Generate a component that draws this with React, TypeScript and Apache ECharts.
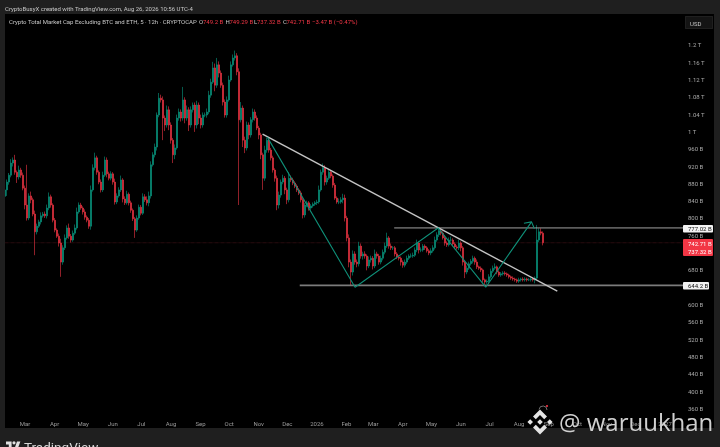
import React, { useEffect, useRef } from "react";
import * as echarts from "echarts";

const BAR_DAYS = 2.096;
const FIRST_BAR = Date.UTC(2025, 1, 8);
const AXIS_MIN = Date.UTC(2025, 1, 8);
const AXIS_MAX = Date.UTC(2027, 0, 20, 20);
const PRICE_MIN = 314.5;
const PRICE_MAX = 1271.6;

const closes = [
  865, 883, 899, 927, 934, 906, 895, 911, 899, 869,
  830, 800, 851, 842, 809, 768, 781, 791, 805, 809,
  805, 823, 849, 830, 795, 772, 758, 742, 698, 731,
  754, 777, 758, 749, 765, 777, 814, 830, 823, 814,
  802, 795, 781, 865, 916, 939, 906, 883, 865, 899,
  934, 902, 892, 902, 883, 837, 851, 865, 888, 844,
  835, 855, 835, 818, 798, 772, 800, 825, 811, 849,
  842, 835, 851, 923, 946, 964, 1038, 1077, 1073, 1031,
  1015, 1050, 1015, 980, 946, 962, 1031, 1045, 1031, 1073,
  1031, 1050, 1015, 1050, 1061, 1015, 1061, 1031, 1015, 1038,
  1038, 1045, 1084, 1114, 1147, 1107, 1154, 1135, 1107, 1068,
  1038, 1073, 1119, 1154, 1170, 1175, 1138, 1027, 1054, 980,
  962, 1015, 992, 1027, 1045, 1031, 1008, 992, 946, 892,
  957, 980, 957, 939, 911, 892, 830, 853, 883, 892,
  865, 842, 892, 888, 881, 874, 865, 858, 842, 807,
  830, 835, 823, 828, 832, 835, 837, 865, 906, 916,
  883, 892, 906, 897, 876, 846, 837, 837, 842, 846,
  800, 754, 698, 675, 717, 698, 694, 735, 712, 717,
  712, 689, 703, 707, 689, 717, 712, 698, 707, 721,
  735, 754, 735, 731, 731, 717, 710, 707, 698, 691,
  698, 707, 712, 712, 714, 726, 742, 726, 726, 735,
  731, 724, 719, 724, 731, 749, 761, 770, 765, 754,
  742, 738, 749, 749, 740, 733, 731, 742, 731, 698,
  675, 684, 694, 700, 707, 698, 687, 684, 680, 657,
  652, 654, 664, 677, 684, 687, 675, 668, 671, 673,
  671, 668, 664, 661, 659, 657, 654, 657, 659, 657,
  659, 657, 657, 659, 657, 661, 749, 768, 765, 742.71,
];

const upperWicks = [
  8, 6, 5, 9, 6, 12, 4, 10, 5, 6,
  6, 93, 6, 10, 5, 8, 6, 5, 8, 5,
  6, 8, 10, 5, 4, 5, 4, 6, 10, 6,
  8, 6, 10, 5, 6, 8, 10, 6, 5, 4,
  6, 4, 5, 10, 8, 12, 5, 4, 6, 8,
  8, 6, 5, 6, 4, 8, 6, 6, 10, 4,
  6, 8, 4, 5, 4, 4, 6, 6, 5, 8,
  6, 8, 10, 8, 6, 8, 6, 12, 8, 8,
  6, 10, 8, 6, 5, 8, 8, 8, 6, 30,
  6, 10, 6, 8, 6, 6, 10, 6, 8, 6,
  6, 8, 10, 8, 14, 10, 16, 8, 6, 6,
  6, 8, 10, 8, 8, 12, 6, 8, 14, 6,
  8, 8, 6, 6, 8, 6, 6, 5, 5, 5,
  10, 6, 6, 5, 5, 4, 6, 8, 6, 8,
  5, 5, 14, 6, 5, 4, 4, 4, 5, 4,
  5, 5, 4, 4, 4, 4, 5, 10, 6, 10,
  6, 6, 8, 5, 4, 5, 4, 8, 6, 10,
  8, 5, 8, 6, 8, 6, 6, 10, 6, 5,
  6, 4, 8, 6, 5, 10, 5, 5, 6, 6,
  8, 12, 4, 6, 4, 4, 4, 4, 4, 4,
  6, 6, 4, 6, 6, 6, 8, 4, 6, 5,
  4, 4, 4, 6, 6, 8, 6, 6, 6, 4,
  6, 4, 6, 8, 4, 4, 4, 8, 4, 4,
  3, 6, 5, 5, 6, 4, 6, 3, 4, 3,
  3, 4, 6, 6, 6, 8, 3, 4, 4, 4,
  4, 3, 3, 3, 4, 3, 3, 5, 3, 4,
  4, 3, 4, 3, 4, 4, 35, 8, 8, 4,
];

const lowerWicks = [
  8, 14, 6, 5, 8, 6, 14, 6, 6, 5,
  10, 6, 5, 8, 5, 54, 6, 4, 6, 4,
  5, 6, 5, 6, 5, 5, 4, 8, 34, 6,
  5, 4, 6, 6, 4, 4, 4, 4, 4, 6,
  6, 5, 6, 8, 4, 6, 6, 5, 6, 5,
  4, 8, 5, 5, 6, 6, 5, 4, 5, 8,
  5, 4, 6, 6, 5, 18, 4, 4, 5, 4,
  5, 6, 8, 6, 4, 6, 8, 5, 6, 51,
  14, 6, 12, 8, 19, 10, 4, 6, 8, 6,
  12, 6, 14, 6, 6, 16, 8, 14, 8, 6,
  5, 6, 5, 6, 4, 14, 6, 10, 6, 8,
  6, 6, 4, 4, 4, 6, 8, 197, 6, 16,
  12, 6, 10, 6, 6, 6, 5, 10, 10, 27,
  6, 6, 6, 6, 6, 8, 12, 8, 6, 5,
  10, 10, 6, 5, 5, 5, 5, 5, 6, 8,
  6, 5, 6, 4, 4, 4, 5, 4, 4, 6,
  8, 6, 4, 5, 6, 4, 4, 5, 4, 8,
  8, 8, 12, 30, 8, 6, 8, 6, 6, 8,
  6, 10, 5, 6, 8, 5, 6, 6, 5, 5,
  5, 4, 6, 5, 5, 6, 5, 5, 8, 6,
  5, 4, 4, 4, 4, 4, 5, 8, 5, 4,
  5, 4, 5, 5, 4, 4, 4, 5, 5, 4,
  6, 5, 4, 4, 5, 5, 4, 5, 8, 8,
  14, 5, 4, 4, 5, 6, 5, 4, 5, 6,
  6, 4, 4, 4, 4, 4, 5, 4, 4, 4,
  4, 4, 4, 4, 4, 4, 4, 4, 4, 4,
  4, 4, 3, 4, 4, 8, 4, 5, 5, 6,
];

const FIRST_OPEN = 850;

const priceTicks = [
  360, 400, 440, 480, 520, 560, 600, 680, 760, 800, 840, 880, 920, 960, 1000, 1040, 1080, 1120, 1160, 1200,
];

const monthTicks: [number, string][] = [
  [Date.UTC(2025, 2, 1), "Mar"], [Date.UTC(2025, 3, 1), "Apr"], [Date.UTC(2025, 4, 1), "May"],
  [Date.UTC(2025, 5, 1), "Jun"], [Date.UTC(2025, 6, 1), "Jul"], [Date.UTC(2025, 7, 1), "Aug"],
  [Date.UTC(2025, 8, 1), "Sep"], [Date.UTC(2025, 9, 1), "Oct"], [Date.UTC(2025, 10, 1), "Nov"],
  [Date.UTC(2025, 11, 1), "Dec"], [Date.UTC(2026, 0, 1), "2026"], [Date.UTC(2026, 1, 1), "Feb"],
  [Date.UTC(2026, 2, 1), "Mar"], [Date.UTC(2026, 3, 1), "Apr"], [Date.UTC(2026, 4, 1), "May"],
  [Date.UTC(2026, 5, 1), "Jun"], [Date.UTC(2026, 6, 1), "Jul"], [Date.UTC(2026, 7, 1), "Aug"],
  [Date.UTC(2026, 8, 1), "Sep"], [Date.UTC(2026, 9, 1), "Oct"], [Date.UTC(2026, 10, 1), "Nov"],
  [Date.UTC(2026, 11, 1), "Dec"], [Date.UTC(2027, 0, 1), "2027"],
];

const trendLine: [string, number][] = [["2025-11-05", 994], ["2026-09-10", 631]];
const zigzag: [string, number][] = [
  ["2025-11-10", 987], ["2026-02-10", 640], ["2026-05-08", 777], ["2026-06-27", 640], ["2026-08-14", 791],
];
const arrowHead: [string, number][] = [["2026-08-06", 788], ["2026-08-14", 791], ["2026-08-17", 775]];
const supportLine: [string, number][] = [["2025-12-14", 644.2], ["2027-01-20", 644.2]];
const resistanceLine: [string, number][] = [["2026-03-23", 777.02], ["2027-01-20", 777.02]];
const lastPriceLine: [string, number][] = [["2025-02-08", 742.71], ["2027-01-20", 742.71]];

const FONT = "Roboto, 'Liberation Sans', sans-serif";

const BINANCE_D =
  "M50 40L60 50L50 60L40 50Z M15 40L25 50L15 60L5 50Z M85 40L95 50L85 60L75 50Z " +
  "M50 5L75 30L65 40L50 25L35 40L25 30Z M50 95L25 70L35 60L50 75L65 60L75 70Z";
const TV_D = "M14 25H7V11H0V4H14V25Z M28 25H20L27.5 4H36L28 25Z M20 3A4 4 0 1 1 20 11A4 4 0 1 1 20 3Z";
echarts.graphic.registerShape("binanceMark", echarts.graphic.extendPath(BINANCE_D, {}));
echarts.graphic.registerShape("tvMark", echarts.graphic.extendPath(TV_D, {}));

function buildOption() {
  const candles = closes.map((c, i) => {
    const o = i === 0 ? FIRST_OPEN : closes[i - 1];
    const hi = Math.max(o, c) + (upperWicks[i] ?? 0);
    const lo = Math.min(o, c) - (lowerWicks[i] ?? 0);
    return [FIRST_BAR + i * BAR_DAYS * 86400000, o, c, lo, hi];
  });
  const line = (data: [string, number][], color: string, width: number, z: number, type = "solid") => ({
    type: "line",
    data: data.map(([d, v]) => [Date.parse(d), v]),
    showSymbol: false,
    silent: true,
    z,
    lineStyle: { color, width, type },
  });
  const label = (text: string, x: number, y: number, fill: string, size = 6, extra: any = {}) => ({
    type: "text",
    x,
    y,
    z: 30,
    style: { text, fill, font: `${size}px ${FONT}`, verticalAlign: "middle", ...extra },
  });
  const band = (x: number, y: number, width: number, height: number) => ({
    type: "rect",
    z: 20,
    shape: { x, y, width, height },
    style: { fill: "#1f1f1f" },
  });
  const tag = (x: number, y: number, width: number, height: number, fill: string) => ({
    type: "rect",
    z: 25,
    shape: { x, y, width, height, r: 1 },
    style: { fill },
  });
  return {
    animation: false,
    backgroundColor: "#000000",
    grid: { left: 5, right: 36, top: 14, bottom: 19, containLabel: false },
    xAxis: {
      type: "value",
      min: AXIS_MIN,
      max: AXIS_MAX,
      axisLine: { show: false },
      axisTick: { show: false },
      splitLine: { show: false },
      axisLabel: {
        inside: true,
        margin: 2,
        color: "#9a9a9a",
        fontSize: 6,
        fontFamily: FONT,
        customValues: monthTicks.map((m) => m[0]),
        formatter: (v: number) => monthTicks.find((m) => m[0] === v)?.[1] ?? "",
      },
    },
    yAxis: {
      type: "value",
      position: "right",
      min: PRICE_MIN,
      max: PRICE_MAX,
      axisLine: { show: false },
      axisTick: { show: false },
      splitLine: { show: false },
      axisLabel: {
        margin: 4,
        color: "#a8a8a8",
        fontSize: 6,
        fontFamily: FONT,
        customValues: priceTicks,
        formatter: (v: number) => (v >= 1000 ? `${v / 1000} T` : `${v} B`),
      },
    },
    series: [
      {
        type: "candlestick",
        data: candles,
        barWidth: 1.9,
        z: 3,
        silent: true,
        itemStyle: {
          color: "#089981",
          color0: "#f23645",
          borderColor: "#089981",
          borderColor0: "#f23645",
          borderWidth: 0.6,
        },
      },
      line(lastPriceLine, "#6e1f27", 0.6, 2, "dotted"),
      line(supportLine, "#7c7c7c", 1.6, 4),
      line(resistanceLine, "#b4b4b4", 0.9, 4),
      line(trendLine, "#c4c4c4", 1.4, 5),
      line(zigzag, "#0f8f78", 1.1, 5),
      line(arrowHead, "#0f8f78", 1.1, 5),
    ],
    graphic: [
      band(0, 0, 720, 14),
      band(0, 428, 720, 19),
      band(0, 14, 5, 414),
      band(714, 14, 6, 414),
      tag(685, 16, 28, 13, "#2a2a2a"),
      tag(685.5, 16.5, 27, 12, "#141414"),
      label("USD", 690, 23, "#c4c4c4"),
      tag(683, 225, 30, 7.5, "#f2f2f2"),
      label("777.02 B", 688, 228.8, "#111111"),
      tag(683, 239, 30, 17, "#f23645"),
      label("742.71 B", 688, 243.4, "#ffffff"),
      label("737.32 B", 688, 251.8, "#ffffff"),
      tag(683, 282, 26, 7.5, "#f2f2f2"),
      label("644.2 B", 688, 285.8, "#111111"),
      label("CryptoBusyX created with TradingView.com, Aug 26, 2026 10:56 UTC-4", 5, 8, "#c6c6c6"),
      label("Crypto Total Market Cap Excluding BTC and ETH, 5 · 12h · CRYPTOCAP", 9, 21.5, "#c6c6c6"),
      label("O", 199, 21.5, "#c6c6c6"),
      label("749.2 B", 203, 21.5, "#f23645"),
      label("H", 225.5, 21.5, "#c6c6c6"),
      label("749.29 B", 229.5, 21.5, "#f23645"),
      label("L", 254, 21.5, "#c6c6c6"),
      label("737.32 B", 257, 21.5, "#f23645"),
      label("C", 283, 21.5, "#c6c6c6"),
      label("742.71 B", 286.5, 21.5, "#f23645"),
      label("−3.47 B (−0.47%)", 312, 21.5, "#f23645"),
      { type: "tvMark", x: 6, y: 440, scaleX: 0.4, scaleY: 0.4, z: 30, style: { fill: "#e0e0e0" } },
      label("TradingView", 24, 447, "#d8d8d8", 13.5),
      { type: "binanceMark", x: 526, y: 408, scaleX: 0.28, scaleY: 0.28, z: 40, style: { fill: "#e4e4e4" } },
      {
        type: "arc",
        z: 39,
        shape: { cx: 543, cy: 410, r: 4, startAngle: -3, endAngle: 0 },
        style: { stroke: "#8a8a8a", lineWidth: 0.8, fill: "none" },
      },
      { type: "circle", z: 40, shape: { cx: 547, cy: 406, r: 1.1 }, style: { fill: "#e03040" } },
      {
        type: "text",
        x: 559,
        y: 421,
        z: 40,
        style: {
          text: "@ waruukhan",
          fill: "#d0d0d0",
          font: `24px 'Open Sans', ${FONT}`,
          verticalAlign: "middle",
        },
      },
    ],
  };
}

export default function App() {
  const ref = useRef<HTMLDivElement>(null);
  useEffect(() => {
    document.body.style.margin = "0";
    document.body.style.background = "#1f1f1f";
    const chart = echarts.init(ref.current!, undefined, { renderer: "svg" });
    chart.setOption(buildOption() as any);
    return () => chart.dispose();
  }, []);
  return <div ref={ref} style={{ width: 720, height: 447, overflow: "hidden", filter: "blur(0.35px)" }} />;
}
